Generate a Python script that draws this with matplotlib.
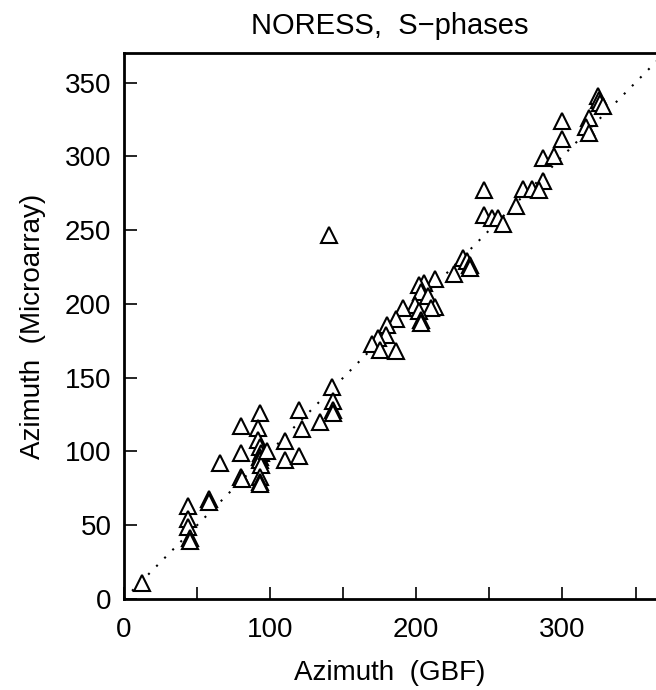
import matplotlib
matplotlib.use("Agg")
import matplotlib.pyplot as plt

# azimuths (degrees)
gbf = [12, 44, 44, 44, 45, 45, 58, 58, 66, 80, 80, 80, 81,
       93, 92, 92, 93, 94, 93, 93, 94, 93, 93, 93, 98, 110, 110,
       120, 122, 120, 134, 142, 143, 143, 143,
       140,
       324, 325, 326, 328, 300, 318, 316, 318, 300, 287, 294, 287,
       273, 279, 284, 246, 268, 246, 252, 256, 259,
       232, 235, 237, 237, 226, 213, 205, 202, 203, 208, 213, 210,
       199, 202, 203, 203, 191, 186, 180, 179, 174, 170, 175, 186]
micro = [11, 63, 54, 49, 41, 39, 68, 66, 92, 117, 99, 83, 81,
         126, 116, 108, 103, 99, 96, 94, 91, 83, 79, 78, 100, 107, 94,
         128, 115, 97, 120, 144, 134, 128, 126,
         247,
         341, 338, 336, 334, 324, 326, 320, 316, 312, 299, 300, 283,
         278, 278, 277, 277, 266, 260, 258, 258, 254,
         231, 229, 226, 224, 220, 217, 214, 213, 208, 205, 198, 197,
         199, 195, 189, 187, 197, 190, 186, 179, 177, 173, 169, 168]

plt.rcParams['font.family'] = ['Liberation Sans', 'DejaVu Sans']

fig = plt.figure(figsize=(6.56, 6.9), dpi=100)
ax = fig.add_axes([124 / 656, 1 - 599 / 690, 1 - 124 / 656, (599 - 53) / 690])

# 1:1 reference line
ax.plot([0, 370], [0, 370], color='black', lw=1.5, linestyle=(0, (1, 4.5)))
ax.plot(gbf, micro, linestyle='none', marker='^', ms=11, mfc='white',
        mec='black', mew=1.5)

ax.set_xlim(0, 364)
ax.set_ylim(0, 370)
ax.set_xticks(range(0, 351, 50))
ax.set_xticklabels(['0', '', '100', '', '200', '', '300', ''])
ax.set_yticks(range(0, 351, 50))
ax.tick_params(direction='in', length=9, width=1.2, labelsize=20, pad=13)
ax.tick_params(axis='y', pad=9)
for side in ['left', 'bottom', 'top']:
    ax.spines[side].set_linewidth(2)
ax.spines['right'].set_visible(False)

ax.set_xlabel('Azimuth  (GBF)', fontsize=20, labelpad=12)
ax.set_ylabel('Azimuth  (Microarray)', fontsize=20, labelpad=14)
ax.set_title('NORESS,  S\u2212phases', fontsize=21, pad=14)

fig.savefig('out.png', dpi=100)
